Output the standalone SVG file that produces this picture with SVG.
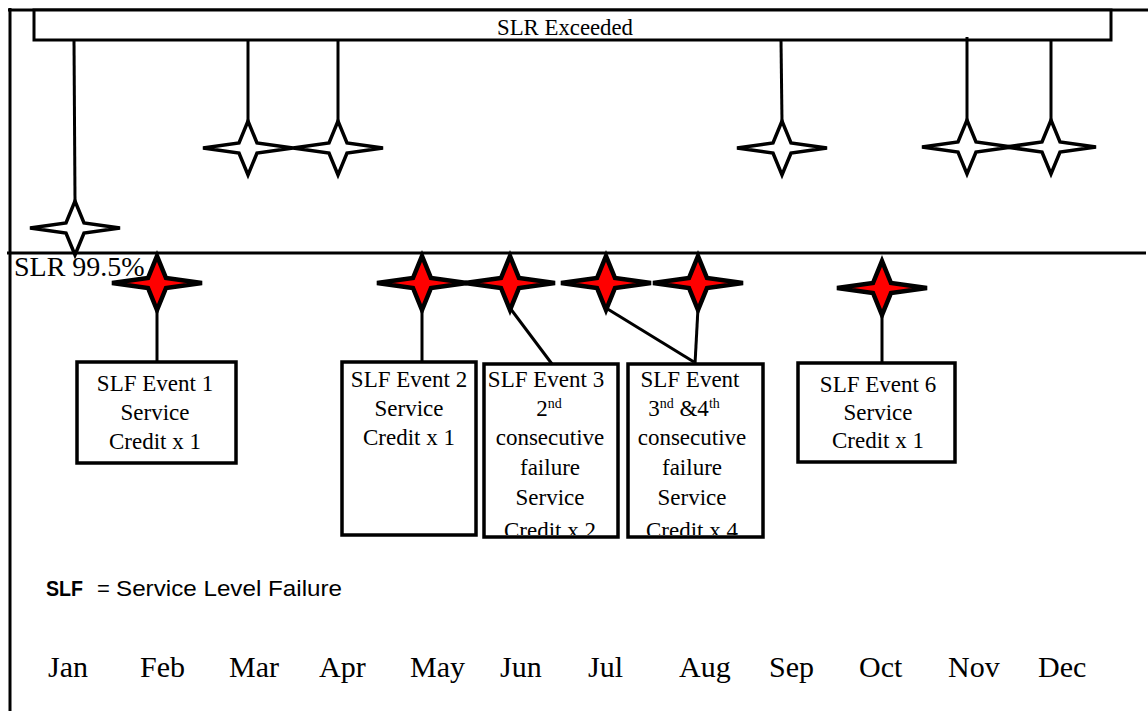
<svg xmlns="http://www.w3.org/2000/svg" width="1148" height="711" viewBox="0 0 1148 711">
<style>
.frame{stroke:#000;stroke-width:3;fill:none}
.conn{stroke:#000;stroke-width:3;fill:none}
.box{fill:#fff;stroke:#000;stroke-width:3.5}
.wstar{fill:#fff;stroke:#000;stroke-width:3.5;stroke-linejoin:miter}
.rstar{fill:#ff0000;stroke:#000;stroke-width:4.5;stroke-linejoin:miter}
.t{font-family:"Liberation Serif","Times New Roman",serif;font-size:23px;fill:#000;text-anchor:middle}
.m{font-family:"Liberation Serif","Times New Roman",serif;font-size:30px;fill:#000}
.sup{font-size:14px}
</style>
<defs>
<path id="star" d="M-45,0 L-9,-5 L0,-27 L9,-5 L45,0 L9,5 L0,27 L-9,5 Z"/>
<clipPath id="c3"><rect x="486" y="366" width="130" height="169"/></clipPath>
<clipPath id="c4"><rect x="630" y="366" width="131" height="169"/></clipPath>
</defs>
<rect width="1148" height="711" fill="#fff"/>

<g id="frame">
<line class="frame" x1="8" y1="10" x2="1148" y2="10"/>
<line class="frame" x1="10" y1="8" x2="10" y2="711"/>
<line class="frame" x1="7" y1="253" x2="1146" y2="253"/>
<text x="14" y="276" font-family="Liberation Serif, Times New Roman, serif" font-size="28">SLR 99.5%</text>
</g>

<g id="slr-exceeded">
<rect x="34" y="10" width="1077" height="30" fill="#fff" stroke="#000" stroke-width="3"/>
<text x="565" y="35" class="t" textLength="136" lengthAdjust="spacingAndGlyphs">SLR Exceeded</text>
</g>

<g id="connectors">
<line class="conn" x1="74" y1="40" x2="75" y2="201"/>
<line class="conn" x1="248" y1="40" x2="248" y2="122"/>
<line class="conn" x1="338" y1="40" x2="338" y2="122"/>
<line class="conn" x1="781" y1="40" x2="782" y2="122"/>
<line class="conn" x1="967" y1="37" x2="967" y2="121"/>
<line class="conn" x1="1051" y1="40" x2="1051" y2="121"/>
<line class="conn" x1="157" y1="308" x2="157" y2="362"/>
<line class="conn" x1="422" y1="308" x2="422" y2="361"/>
<line class="conn" x1="510" y1="308" x2="552" y2="364"/>
<line class="conn" x1="606" y1="308" x2="694" y2="362"/>
<line class="conn" x1="698" y1="308" x2="695" y2="364"/>
<line class="conn" x1="882" y1="312" x2="882" y2="363"/>
</g>

<g id="exceed-jan"><use href="#star" class="wstar" x="75" y="228"/></g>
<g id="exceed-mar"><use href="#star" class="wstar" x="248" y="148"/></g>
<g id="exceed-apr"><use href="#star" class="wstar" x="338" y="148"/></g>
<g id="exceed-sep"><use href="#star" class="wstar" x="782" y="148"/></g>
<g id="exceed-nov"><use href="#star" class="wstar" x="967" y="147"/></g>
<g id="exceed-dec"><use href="#star" class="wstar" x="1051" y="147"/></g>

<g id="fail-feb"><use href="#star" class="rstar" x="157" y="283"/></g>
<g id="fail-may"><use href="#star" class="rstar" x="422" y="283"/></g>
<g id="fail-jun"><use href="#star" class="rstar" x="510" y="283"/></g>
<g id="fail-jul"><use href="#star" class="rstar" x="606" y="283"/></g>
<g id="fail-aug"><use href="#star" class="rstar" x="698" y="283"/></g>
<g id="fail-oct"><use href="#star" class="rstar" x="882" y="288"/></g>

<g id="event1">
<rect class="box" x="77" y="362" width="159" height="101"/>
<text class="t" x="155" y="391">SLF Event 1</text>
<text class="t" x="155" y="420">Service</text>
<text class="t" x="155" y="449">Credit x 1</text>
</g>

<g id="event2">
<rect class="box" x="342" y="362" width="134" height="173"/>
<text class="t" x="409" y="387">SLF Event 2</text>
<text class="t" x="409" y="416">Service</text>
<text class="t" x="409" y="445">Credit x 1</text>
</g>

<g id="event3">
<rect class="box" x="484" y="364" width="134" height="173"/>
<g clip-path="url(#c3)">
<text class="t" x="546" y="387">SLF Event 3</text>
<text class="t" x="549" y="416">2<tspan class="sup" dy="-8">nd</tspan></text>
<text class="t" x="550" y="445">consecutive</text>
<text class="t" x="550" y="475">failure</text>
<text class="t" x="550" y="505">Service</text>
<text class="t" x="550" y="538">Credit x 2</text>
</g>
</g>

<g id="event4">
<rect class="box" x="628" y="364" width="135" height="173"/>
<g clip-path="url(#c4)">
<text class="t" x="690" y="387">SLF Event</text>
<text class="t" x="684" y="416">3<tspan class="sup" dy="-8">nd</tspan><tspan dy="8">  &amp;4</tspan><tspan class="sup" dy="-8">th</tspan></text>
<text class="t" x="692" y="445">consecutive</text>
<text class="t" x="692" y="475">failure</text>
<text class="t" x="692" y="505">Service</text>
<text class="t" x="692" y="538">Credit x 4</text>
</g>
</g>

<g id="event6">
<rect class="box" x="798" y="363" width="157" height="99"/>
<text class="t" x="878" y="392">SLF Event 6</text>
<text class="t" x="878" y="420">Service</text>
<text class="t" x="878" y="448">Credit x 1</text>
</g>

<g id="legend" font-family="Liberation Sans, Arial, sans-serif" font-size="22">
<text x="46" y="596" font-weight="bold" textLength="37" lengthAdjust="spacingAndGlyphs">SLF</text>
<text x="97" y="596">=</text>
<text x="116" y="596" textLength="226" lengthAdjust="spacingAndGlyphs">Service Level Failure</text>
</g>

<g id="months">
<text class="m" x="48" y="677">Jan</text>
<text class="m" x="140" y="677">Feb</text>
<text class="m" x="229" y="677">Mar</text>
<text class="m" x="319" y="677">Apr</text>
<text class="m" x="410" y="677">May</text>
<text class="m" x="500" y="677">Jun</text>
<text class="m" x="588" y="677">Jul</text>
<text class="m" x="679" y="677">Aug</text>
<text class="m" x="769" y="677">Sep</text>
<text class="m" x="859" y="677">Oct</text>
<text class="m" x="948" y="677">Nov</text>
<text class="m" x="1038" y="677">Dec</text>
</g>
</svg>
